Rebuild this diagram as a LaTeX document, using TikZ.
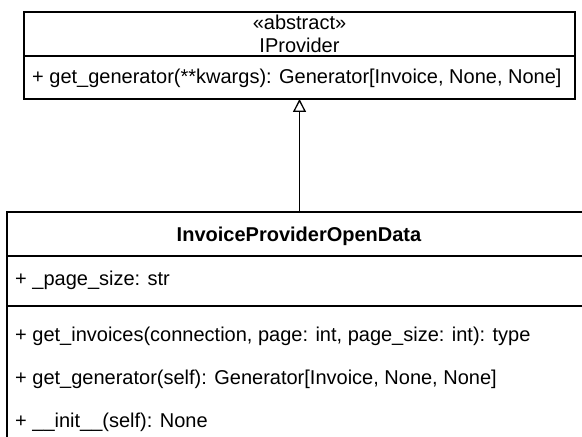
\documentclass[tikz,border=0pt]{standalone}
\usepackage{fontspec}
\setmainfont{Liberation Sans}
\usetikzlibrary{arrows.meta}
\begin{document}
\begin{tikzpicture}[x=1bp,y=-1bp,
  classbox/.style={draw=black,line width=1.3bp,fill=white,inner sep=0pt,outer sep=0pt},
  member/.style={anchor=base west,inner sep=0pt,font=\fontsize{20bp}{22bp}\selectfont},
  header/.style={anchor=base,inner sep=0pt,font=\fontsize{20bp}{22bp}\selectfont},
  divider/.style={line width=1.3bp},
  realizes/.style={line width=1.3bp,-{Triangle[open,width=13bp,length=13bp]}}]
\useasboundingbox (0,0) rectangle (582,437);
\clip (0,0) rectangle (582,437);
\fill[white] (0,0) rectangle (582,437);

% abstract base class
\node[classbox,minimum width=551bp,minimum height=87bp] (iprov) at (299.5,55.5) {};
\draw[divider] (24,56) -- (575,56);
\node[header] (stereo) at (299.5,30) {«abstract»};
\node[header] (iname) at (299.5,52.5) {IProvider};
\node[member] (igen) at (32,84) {+ get\_generator(**kwargs): Generator[Invoice, None, None]};

% concrete provider class
\node[classbox,minimum width=584bp,minimum height=260bp] (impl) at (299,342) {};
\draw[divider] (7,256) -- (591,256);
\draw[divider] (7,306) -- (591,306);
\node[header,font=\fontsize{20bp}{22bp}\selectfont\bfseries] (cname) at (299,242) {InvoiceProviderOpenData};
\node[member] (attr) at (15,286) {+ \_page\_size: str};
\node[member] (m1) at (15,341) {+ get\_invoices(connection, page: int, page\_size: int): type};
\node[member] (m2) at (15,384) {+ get\_generator(self): Generator[Invoice, None, None]};
\node[member] (m3) at (15,427) {+ \_\_init\_\_(self): None};

% generalisation
\draw[realizes] (impl.north -| iprov.south) -- (iprov.south);
\end{tikzpicture}
\end{document}
